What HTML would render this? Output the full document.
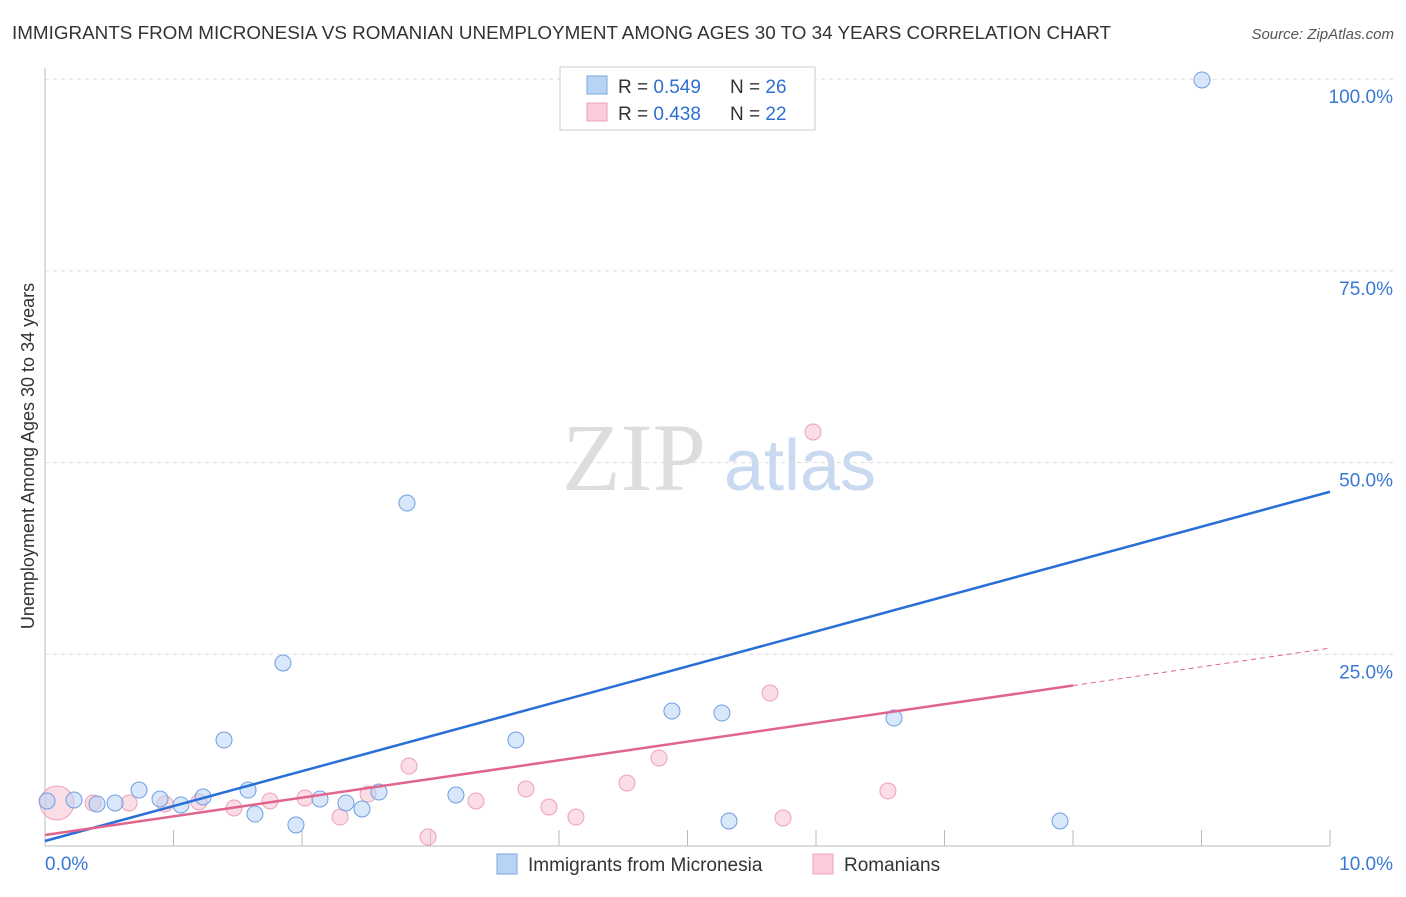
<!DOCTYPE html>
<html><head><meta charset="utf-8"><style>
body{margin:0;background:#fff;font-family:"Liberation Sans",sans-serif;}
svg text{font-family:"Liberation Sans",sans-serif;}
</style></head><body>
<svg width="1406" height="892" id="chart">
<text x="12" y="39" font-size="18.5" fill="#333" textLength="1099" lengthAdjust="spacingAndGlyphs">IMMIGRANTS FROM MICRONESIA VS ROMANIAN UNEMPLOYMENT AMONG AGES 30 TO 34 YEARS CORRELATION CHART</text>
<text x="1394" y="39" font-size="15" fill="#555" font-style="italic" text-anchor="end">Source: ZipAtlas.com</text>
<text x="634" y="490" font-size="96" fill="#ddd" font-family="Liberation Serif" text-anchor="middle" style="font-family:'Liberation Serif',serif">ZIP</text>
<text x="800" y="490" font-size="72" fill="#c9d9f0" text-anchor="middle">atlas</text>
<text transform="translate(34,456) rotate(-90)" font-size="18" fill="#333" text-anchor="middle">Unemployment Among Ages 30 to 34 years</text>
<g id="grid"></g><g id="marks"></g>
<g>
<rect x="560" y="67" width="255" height="63" fill="#fff" stroke="#ccc"/>
<rect x="587" y="76" width="20" height="18" fill="#b8d4f5" stroke="#7aa7e0"/>
<rect x="587" y="103" width="20" height="18" fill="#fcccdb" stroke="#eea0b8"/>
<text x="618" y="93" font-size="19" fill="#333">R = <tspan fill="#2f6fd0">0.549</tspan></text>
<text x="730" y="93" font-size="19" fill="#333">N = <tspan fill="#2f6fd0">26</tspan></text>
<text x="618" y="120" font-size="19" fill="#333">R = <tspan fill="#2f6fd0">0.438</tspan></text>
<text x="730" y="120" font-size="19" fill="#333">N = <tspan fill="#2f6fd0">22</tspan></text>
</g>
<g>
<rect x="497" y="854" width="20" height="20" fill="#b8d4f5" stroke="#7aa7e0"/>
<text x="528" y="871" font-size="19" fill="#333">Immigrants from Micronesia</text>
<rect x="813" y="854" width="20" height="20" fill="#fcccdb" stroke="#eea0b8"/>
<text x="844" y="871" font-size="19" fill="#333">Romanians</text>
</g>
</svg>
<script>
const blueX=[0.016,0.226,0.405,0.545,0.732,0.895,1.058,1.23,1.393,1.58,1.634,1.852,1.953,2.14,2.342,2.467,2.599,2.817,3.198,3.665,4.879,5.268,5.323,6.607,7.899,9.004];
const blueY=[5.87,6.0,5.48,5.61,7.3,6.13,5.35,6.39,13.82,7.3,4.17,23.87,2.74,6.13,5.61,4.83,7.04,44.73,6.65,13.82,17.6,17.34,3.26,16.69,3.26,99.9];
const pinkX=[0.093,0.374,0.654,0.934,1.198,1.471,1.751,2.023,2.296,2.514,2.833,2.981,3.354,3.743,3.922,4.132,4.529,4.778,5.642,5.743,5.977,6.56];
const pinkY=[5.61,5.61,5.61,5.48,5.74,4.96,5.87,6.26,3.78,6.78,10.43,1.17,5.87,7.43,5.09,3.78,8.22,11.48,19.95,3.65,53.99,7.17];
const blueLine=[0.65,46.2];
const pinkLine=[1.43,25.8];
const yTicks=[25,50,75,100];
const yTickLabels=["25.0%","50.0%","75.0%","100.0%"];
const xTicks=[0,1,2,3,4,5,6,7,8,9,10];
const NS="http://www.w3.org/2000/svg";
const sx=v=>45+v*128.5, sy=v=>846-v*7.668;
function mk(t,a,p){const e=document.createElementNS(NS,t);for(const k in a)e.setAttribute(k,a[k]);p.appendChild(e);return e;}
const grid=document.getElementById('grid'),marks=document.getElementById('marks');
yTicks.forEach((t,i)=>{
 const l=mk('line',{x1:45,x2:1394,y1:sy(t),y2:sy(t),stroke:'#ddd','stroke-dasharray':'4,4'},grid);
 
 
 const tx=mk('text',{x:1393,y:sy(t)+24,'font-size':19,fill:'#3a78d4','text-anchor':'end'},grid);
 tx.textContent=yTickLabels[i];
 
 
});
const ax=mk('line',{x1:45,x2:45,y1:68,y2:846,stroke:'#bbb'},grid);


const bx=mk('line',{x1:45,x2:1330,y1:846,y2:846,stroke:'#bbb'},grid);


xTicks.forEach(t=>{const l=mk('line',{x1:sx(t),x2:sx(t),y1:846,y2:830,stroke:'#bbb'},grid);
 
 });
const x0=mk('text',{x:45,y:870,'font-size':19,fill:'#3a78d4'},grid);x0.textContent='0.0%';


const x1=mk('text',{x:1393,y:870,'font-size':19,fill:'#3a78d4','text-anchor':'end'},grid);x1.textContent='10.0%';


pinkX.forEach((x,i)=>{const c=mk('circle',{cx:sx(x),cy:sy(pinkY[i]),r:i==0?17:8,fill:'rgba(248,187,206,0.5)',stroke:'#eea0b8'},marks);
 
 });
blueX.forEach((x,i)=>{const c=mk('circle',{cx:sx(x),cy:sy(blueY[i]),r:8,fill:'rgba(184,212,245,0.55)',stroke:'#6f9fe0'},marks);
 
 });
const bl=mk('line',{x1:sx(0),y1:sy(blueLine[0]),x2:sx(10),y2:sy(blueLine[1]),stroke:'#2a6fd6','stroke-width':2.5},marks);


const pAt=x=>pinkLine[0]+(pinkLine[1]-pinkLine[0])*x/10;
const pl=mk('line',{x1:sx(0),y1:sy(pAt(0)),x2:sx(8),y2:sy(pAt(8)),stroke:'#e0648c','stroke-width':2.5},marks);


const pd=mk('line',{x1:sx(8),y1:sy(pAt(8)),x2:sx(10),y2:sy(pAt(10)),stroke:'#e0648c','stroke-width':1,'stroke-dasharray':'5,4'},marks);


</script>
</body></html>
